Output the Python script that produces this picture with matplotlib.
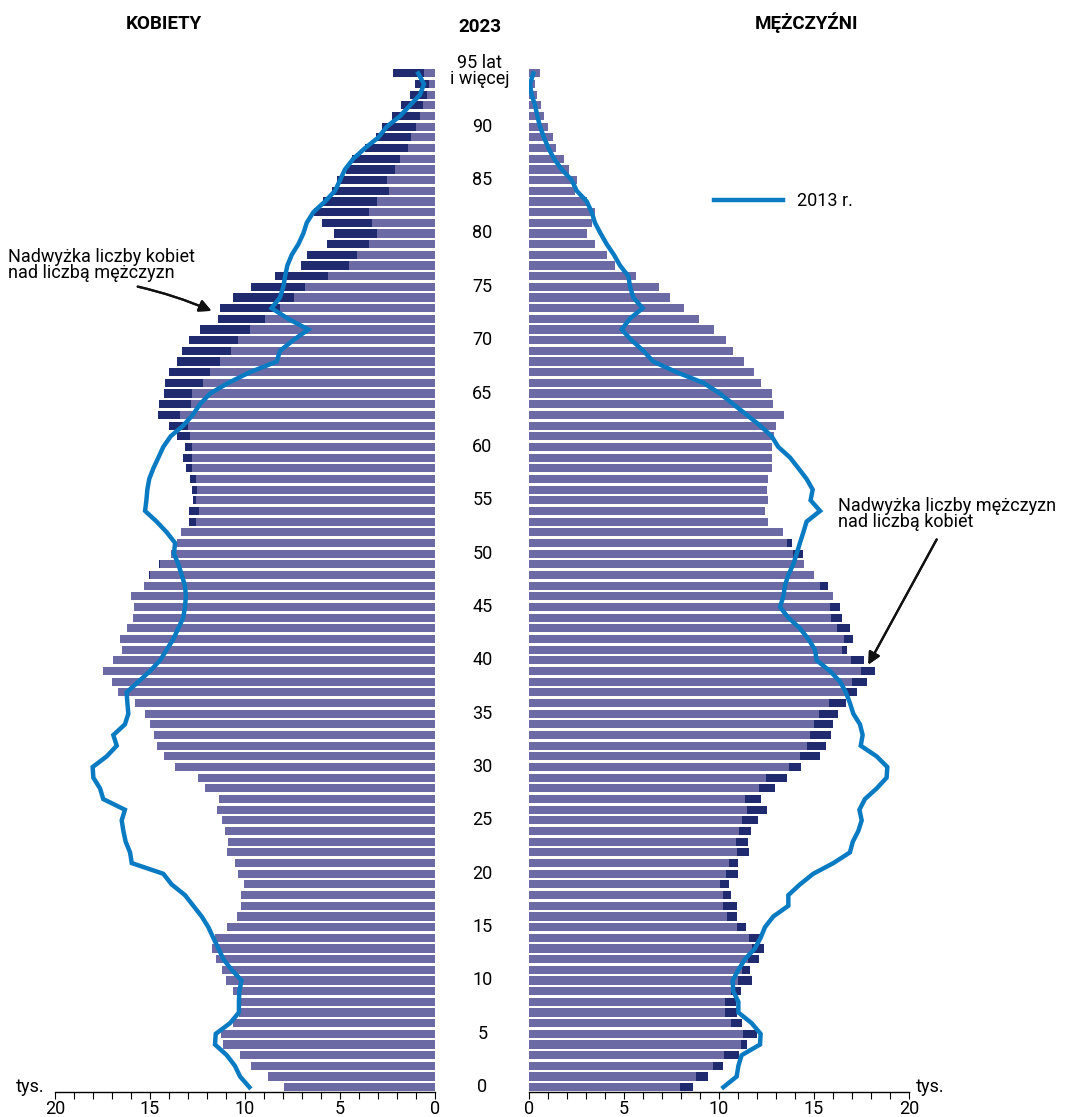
# Piramida wieku 2023 vs 2013
import numpy as np
import matplotlib.pyplot as plt

plt.rcParams['font.family'] = ['Roboto', 'DejaVu Sans']

# wiek 0..95 (95 = 95 lat i wiecej)
ages = np.arange(96)

# tys. osob, 2023
women_2023 = [7.93, 8.81, 9.68, 10.26, 11.16, 11.28, 10.63, 10.30, 10.30, 10.65,
              11.00, 11.19, 11.54, 11.72, 11.58, 10.95, 10.40, 10.21, 10.21, 10.07,
              10.37, 10.51, 10.96, 10.89, 11.07, 11.21, 11.49, 11.39, 12.12, 12.46,
              13.68, 14.28, 14.63, 14.77, 15.02, 15.26, 15.81, 16.67, 16.98, 17.47,
              16.93, 16.46, 16.58, 16.19, 15.89, 15.86, 16.00, 15.32, 15.04, 14.54,
              13.88, 13.60, 13.37, 12.93, 12.93, 12.72, 12.77, 12.88, 13.12, 13.26,
              13.18, 13.56, 14.00, 14.60, 14.53, 14.25, 14.21, 14.00, 13.60, 13.32,
              12.93, 12.39, 11.40, 11.32, 10.61, 9.68, 8.40, 7.05, 6.75, 5.68,
              5.30, 5.96, 6.35, 5.88, 5.44, 5.18, 4.70, 4.35, 3.68, 3.12,
              2.79, 2.25, 1.81, 1.32, 1.05, 2.19]
men_2023 = [8.65, 9.44, 10.21, 11.05, 11.47, 12.02, 11.19, 10.93, 10.89, 11.14,
            11.72, 11.63, 12.10, 12.35, 12.16, 11.42, 10.93, 10.93, 10.65, 10.51,
            10.98, 10.98, 11.58, 11.53, 11.67, 12.07, 12.51, 12.21, 12.95, 13.58,
            14.32, 15.30, 15.65, 15.89, 15.98, 16.28, 16.68, 17.25, 17.79, 18.19,
            17.61, 16.75, 17.07, 16.91, 16.47, 16.37, 15.98, 15.74, 15.00, 14.47,
            14.42, 13.82, 13.39, 12.56, 12.42, 12.56, 12.51, 12.56, 12.81, 12.81,
            12.81, 12.91, 13.00, 13.42, 12.86, 12.81, 12.21, 11.82, 11.33, 10.75,
            10.35, 9.72, 8.93, 8.16, 7.42, 6.84, 5.61, 4.54, 4.09, 3.47,
            3.07, 3.32, 3.46, 3.04, 2.42, 2.51, 2.09, 1.84, 1.40, 1.25,
            1.00, 0.81, 0.61, 0.40, 0.30, 0.58]

# tys. osob, 2013 (linia)
women_2013 = [9.77, 10.26, 10.53, 10.96, 11.58, 11.54, 10.79, 10.32, 10.32, 10.30,
              10.18, 10.70, 11.14, 11.40, 11.67, 11.93, 12.28, 12.72, 13.16, 13.86,
              14.30, 15.96, 16.05, 16.28, 16.40, 16.49, 16.32, 17.46, 17.63, 17.98,
              18.02, 17.28, 16.75, 16.93, 16.32, 16.14, 16.19, 16.23, 15.61, 15.00,
              14.47, 14.12, 13.77, 13.51, 13.25, 13.16, 13.11, 13.16, 13.33, 13.51,
              13.74, 13.68, 14.12, 14.65, 15.26, 15.19, 15.14, 15.04, 14.82, 14.56,
              14.30, 13.91, 13.25, 12.75, 12.37, 11.84, 10.88, 9.74, 8.33, 8.16,
              7.46, 6.67, 7.72, 8.60, 8.16, 7.98, 7.89, 7.77, 7.54, 7.19,
              6.93, 6.75, 6.40, 5.79, 5.26, 5.00, 4.74, 4.30, 3.68, 2.98,
              2.54, 1.84, 1.32, 0.79, 0.58, 0.88]
men_2013 = [10.23, 10.93, 11.02, 11.19, 12.16, 12.19, 11.72, 11.02, 11.02, 10.75,
            10.72, 11.02, 11.37, 11.89, 12.19, 12.42, 12.86, 13.65, 13.65, 14.26,
            14.96, 16.02, 16.89, 17.04, 17.33, 17.51, 17.39, 17.68, 18.30, 18.82,
            18.86, 18.30, 17.46, 17.56, 17.42, 17.07, 16.89, 16.68, 16.37, 15.84,
            15.14, 15.05, 14.70, 14.26, 13.65, 13.21, 13.39, 13.47, 13.65, 13.91,
            14.09, 14.26, 14.44, 14.61, 15.32, 14.82, 14.93, 14.61, 14.18, 13.74,
            13.12, 12.77, 12.16, 11.46, 10.75, 10.05, 9.18, 7.77, 6.54, 6.02,
            5.40, 4.88, 5.30, 5.98, 5.49, 5.32, 5.23, 4.79, 4.47, 4.09,
            3.77, 3.47, 3.30, 3.04, 2.51, 2.25, 1.72, 1.32, 1.02, 0.79,
            0.58, 0.44, 0.32, 0.14, 0.05, 0.23]

age_ticks = list(range(0, 95, 5))
x_ticks = [0, 5, 10, 15, 20]

W, H = 1086, 1117
def fx(x):
    return x / W
def fy(y):
    return 1 - y / H

purple = '#6b6aa4'
navy = '#1f2a6f'
blue = '#0a7bc2'
fs = 13

w = np.array(women_2023)
m = np.array(men_2023)
common = np.minimum(w, m)

fig = plt.figure(figsize=(W / 100, H / 100), dpi=100)
ax_l = fig.add_axes([fx(55), fy(1092), fx(380), 1025 / H])
ax_r = fig.add_axes([fx(529), fy(1092), fx(380), 1025 / H])

bh = 0.76
for ax, own, other13 in [(ax_l, w, women_2013), (ax_r, m, men_2013)]:
    ax.barh(ages, common, height=bh, color=purple, linewidth=0)
    ax.barh(ages, np.clip(own - common, 0, None), left=common, height=bh,
            color=navy, linewidth=0)
    ax.plot(other13, ages, color=blue, lw=3.2, solid_joinstyle='miter')
    ax.set_ylim(-0.45, 95.6)
    ax.set_yticks([])
    for s in ['top', 'left', 'right']:
        ax.spines[s].set_visible(False)
    ax.spines['bottom'].set_linewidth(1)
    ax.set_xticks(x_ticks)
    ax.set_xticks(np.arange(0, 21, 1), minor=True)
    ax.tick_params(axis='x', which='both', length=5, width=0.8, labelsize=fs, pad=1)

ax_l.set_xlim(20, 0)
ax_r.set_xlim(0, 20)

ax_r.lines[0].set_label('2013 r.')
ax_r.legend(loc='center left', bbox_to_anchor=(fx(714), fy(201)),
            bbox_transform=fig.transFigure, frameon=False, fontsize=fs,
            handlelength=3.8, handletextpad=0.8, borderpad=0, borderaxespad=0)

# etykiety wieku pomiedzy panelami
for a in age_ticks:
    ax_r.text(-2.45, a, str(a), ha='center', va='center', fontsize=fs, clip_on=False)
ax_r.text(-2.6, 95.2, '95 lat\ni więcej', ha='center', va='center', fontsize=fs,
          linespacing=0.85, clip_on=False)

fig.text(fx(164), fy(24), 'KOBIETY', ha='center', va='center', fontsize=13.5, fontweight='bold')
fig.text(fx(480), fy(27), '2023', ha='center', va='center', fontsize=13.5, fontweight='bold')
fig.text(fx(806), fy(23), 'MĘŻCZYŹNI', ha='center', va='center', fontsize=13.5, fontweight='bold')

fig.text(fx(30), fy(1087), 'tys.', ha='center', va='center', fontsize=fs)
fig.text(fx(930), fy(1087), 'tys.', ha='center', va='center', fontsize=fs)

fig.text(fx(8), fy(265), 'Nadwyżka liczby kobiet\nnad liczbą mężczyzn', ha='left', va='center',
         fontsize=fs, linespacing=0.85)
fig.text(fx(838), fy(514), 'Nadwyżka liczby mężczyzn\nnad liczbą kobiet', ha='left', va='center',
         fontsize=fs, linespacing=0.85)

fig.add_artist(plt.annotate('', xy=(fx(214), fy(312)), xytext=(fx(135), fy(286)),
                            xycoords='figure fraction', textcoords='figure fraction',
                            arrowprops=dict(arrowstyle='-|>', color='#111111', lw=1.6,
                                            mutation_scale=18, connectionstyle='arc3,rad=-0.05')))
fig.add_artist(plt.annotate('', xy=(fx(867), fy(667)), xytext=(fx(938), fy(537)),
                            xycoords='figure fraction', textcoords='figure fraction',
                            arrowprops=dict(arrowstyle='-|>', color='#111111', lw=1.6,
                                            mutation_scale=18)))

plt.savefig('out.png', dpi=100)
